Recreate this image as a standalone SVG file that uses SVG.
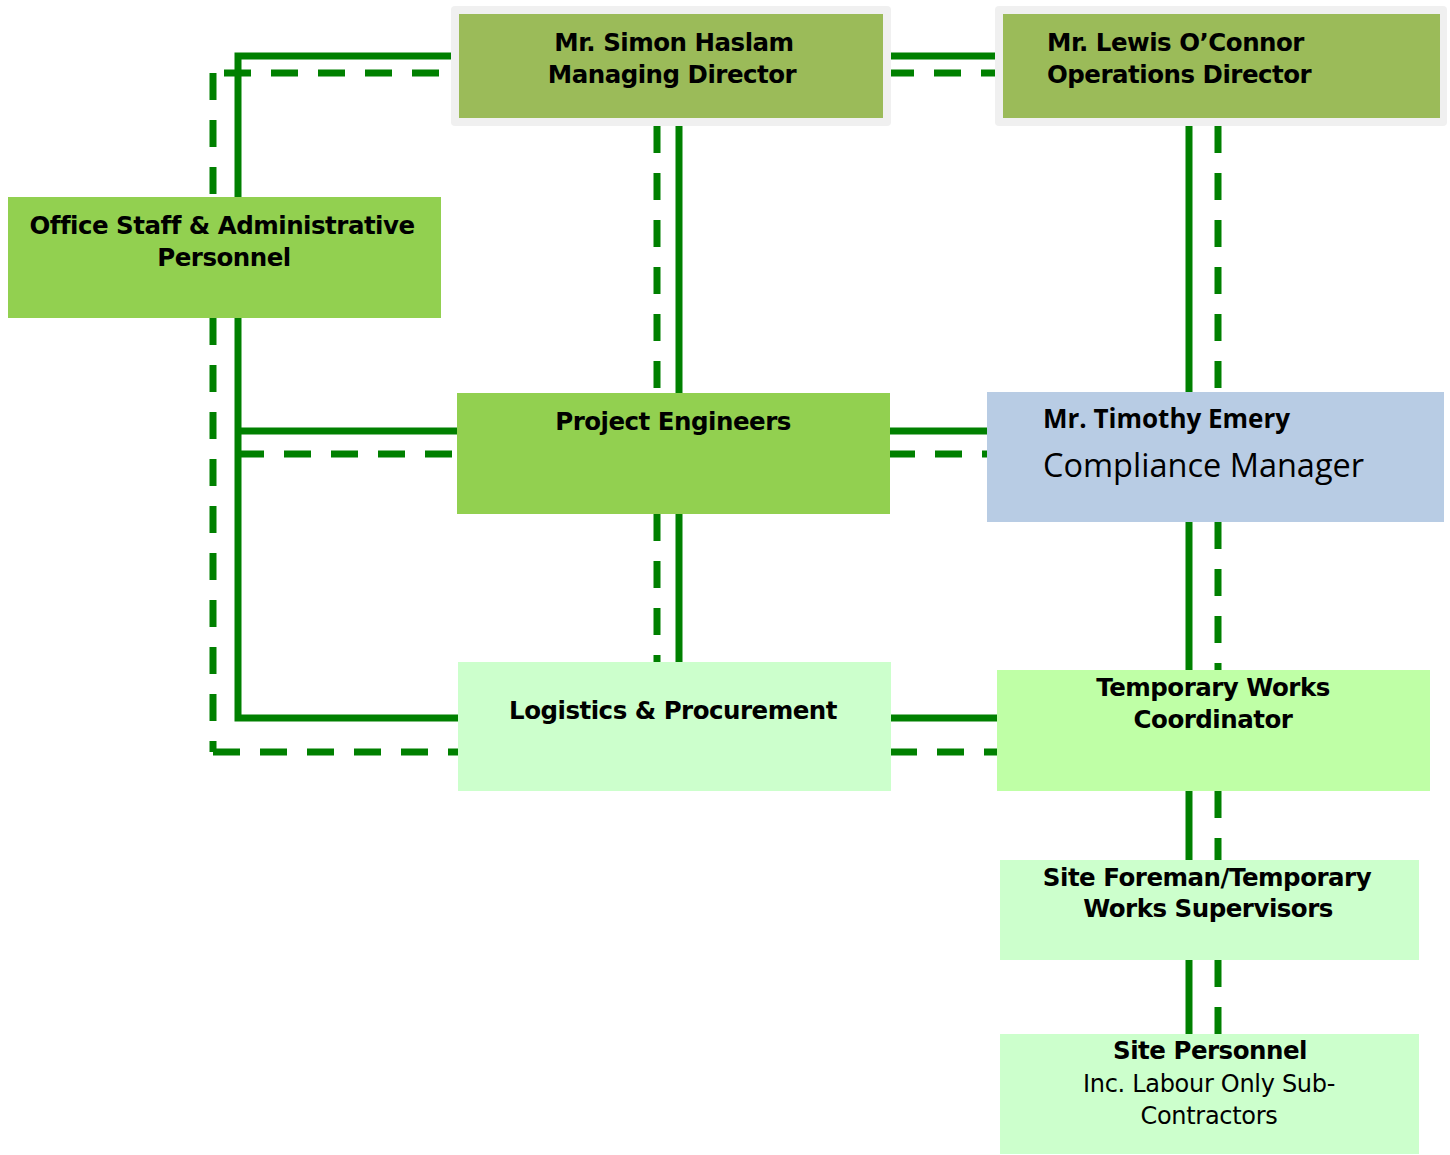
<svg xmlns="http://www.w3.org/2000/svg" width="1450" height="1155" viewBox="0 0 1450 1155">
<style>
.s{fill:none;stroke:#008000;stroke-width:7}
.d{fill:none;stroke:#008000;stroke-width:7;stroke-dasharray:27 20}
.b{font-family:"DejaVu Sans","Verdana",sans-serif;font-weight:bold;font-size:24.5px;letter-spacing:-0.5px;fill:#000}
.r{font-family:"DejaVu Sans","Verdana",sans-serif;font-size:24px;letter-spacing:-0.3px;fill:#000}
.c{text-anchor:middle}
.frame{fill:#F0F0F0}
</style>
<rect width="1450" height="1155" fill="#FFFFFF"/>
<g id="connectors">
<path class="s" d="M451 56 H238 V197"/>
<path class="d" d="M224 73 H451"/>
<path class="d" d="M213 73 V197"/>
<path class="s" d="M238 318 V718 H458"/>
<path class="s" d="M238 431 H457"/>
<path class="d" d="M237 454 H457"/>
<path class="d" d="M213 318 V752"/>
<path class="d" d="M213 752 H458"/>
<path class="s" d="M887 56 H999"/>
<path class="d" d="M887 73 H999"/>
<path class="s" d="M679 126 V393"/>
<path class="d" d="M657 126 V393"/>
<path class="s" d="M679 514 V662"/>
<path class="d" d="M657 514 V662"/>
<path class="s" d="M890 431 H987"/>
<path class="d" d="M888 454 H987"/>
<path class="s" d="M891 718 H997"/>
<path class="d" d="M890 752 H997"/>
<path class="s" d="M1189 126 V392"/>
<path class="d" d="M1218 126 V392"/>
<path class="s" d="M1189 522 V670"/>
<path class="d" d="M1218 522 V670"/>
<path class="s" d="M1189 791 V860"/>
<path class="d" d="M1218 791 V860"/>
<path class="s" d="M1189 960 V1034"/>
<path class="d" d="M1218 960 V1034"/>
</g>
<g id="managing-director">
<rect class="frame" x="451" y="6" width="440" height="120" rx="4"/>
<rect x="459" y="14" width="424" height="104" fill="#9BBB59"/>
<text class="b c" x="674" y="51">Mr. Simon Haslam</text>
<text class="b c" x="672" y="83">Managing Director</text>
</g>
<g id="operations-director">
<rect class="frame" x="995" y="6" width="452" height="120" rx="4"/>
<rect x="1003" y="14" width="437" height="104" fill="#9BBB59"/>
<text class="b" x="1047" y="51">Mr. Lewis O’Connor</text>
<text class="b" x="1047" y="83">Operations Director</text>
</g>
<g id="office-staff">
<rect x="8" y="197" width="433" height="121" fill="#92D050"/>
<text class="b c" x="222" y="234">Office Staff &amp; Administrative</text>
<text class="b c" x="224" y="266">Personnel</text>
</g>
<g id="project-engineers">
<rect x="457" y="393" width="433" height="121" fill="#92D050"/>
<text class="b c" x="673" y="430">Project Engineers</text>
</g>
<g id="compliance-manager">
<rect x="987" y="392" width="457" height="130" fill="#B8CCE4"/>
<text x="1043" y="428" font-family="'Open Sans','Noto Sans',sans-serif" font-weight="bold" font-size="26" fill="#000">Mr. Timothy Emery</text>
<text x="1043" y="477" font-family="'Open Sans','Noto Sans',sans-serif" font-size="32.5" fill="#000">Compliance Manager</text>
</g>
<g id="logistics">
<rect x="458" y="662" width="433" height="129" fill="#CCFFCC"/>
<text class="b c" x="673" y="719">Logistics &amp; Procurement</text>
</g>
<g id="temporary-works-coordinator">
<rect x="997" y="670" width="433" height="121" fill="#BFFFA6"/>
<text class="b c" x="1213" y="696">Temporary Works</text>
<text class="b c" x="1213" y="728">Coordinator</text>
</g>
<g id="site-foreman">
<rect x="1000" y="860" width="419" height="100" fill="#CCFFCC"/>
<text class="b c" x="1207" y="886">Site Foreman/Temporary</text>
<text class="b c" x="1208" y="917">Works Supervisors</text>
</g>
<g id="site-personnel">
<rect x="1000" y="1034" width="419" height="120" fill="#CCFFCC"/>
<text class="b c" x="1210" y="1059">Site Personnel</text>
<text class="r c" x="1209" y="1092">Inc. Labour Only Sub-</text>
<text class="r c" x="1209" y="1124">Contractors</text>
</g>
</svg>
